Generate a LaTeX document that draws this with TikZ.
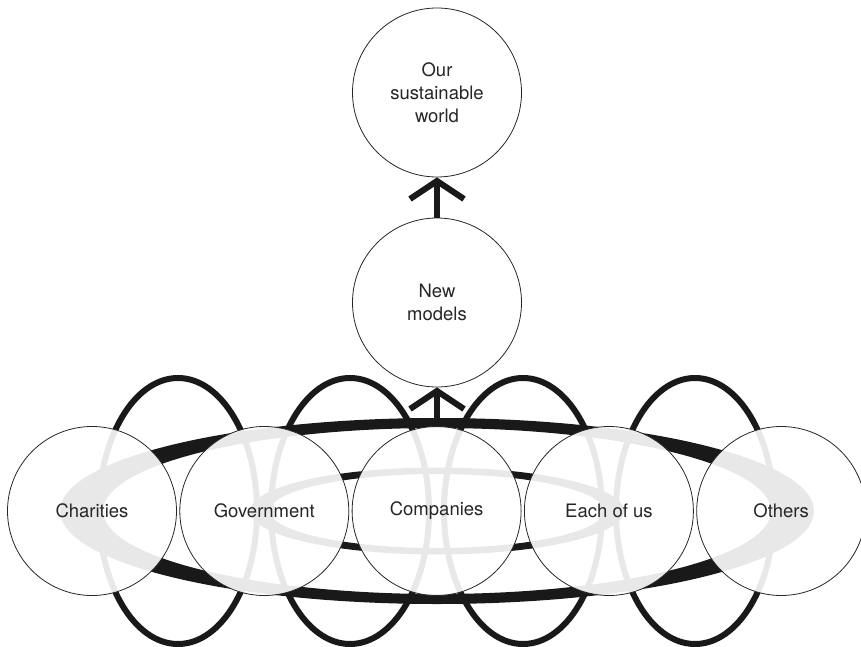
\documentclass[tikz,border=0pt]{standalone}
\usepackage{fontspec}
\setmainfont{TeX Gyre Heros}
\usetikzlibrary{arrows.meta}
\usetikzlibrary{positioning}

\begin{document}
\begin{tikzpicture}[x=1pt, y=1pt,
disc/.style={draw=black!85, line width=.8pt, circle, minimum size=169pt,
inner sep=0pt, fill=white, fill opacity=.9, text opacity=1, text=black!85,
align=center, font=\fontsize{18.5}{23}\selectfont},
loop/.style={line width=6pt, black!90},
tip/.style={line width=6pt, black!90, -{Straight Barb[length=18pt, width=54pt]}}]
\useasboundingbox (0,0) rectangle (861,-647);
\foreach \x in {178, 350, 523, 695}{
\draw[loop] (\x,-511) ellipse [x radius=79pt, y radius=133pt];}
\fill[black!90, even odd rule] (437,-511) ellipse [x radius=377pt, y radius=93pt]
ellipse [x radius=334pt, y radius=83pt];
\fill[black!90, even odd rule] (437,-511) ellipse [x radius=187pt, y radius=43.5pt]
ellipse [x radius=167pt, y radius=37pt];
\foreach \i/\t in {0/Charities, 1/Government, 2/Companies, 3/Each of us, 4/Others}{
\node[disc] (\i) at (92+172.3*\i,-511) {\t};}
\node[disc] (newmod) at (437,-302.5) {New\\models};
\node[disc] (world) at (437,-92.5) {Our\\sustainable\\world};
\coordinate (ring) at (437,-420);
\draw[tip] (ring) -- (newmod);
\draw[tip] (newmod) -- (world);
\end{tikzpicture}
\end{document}
